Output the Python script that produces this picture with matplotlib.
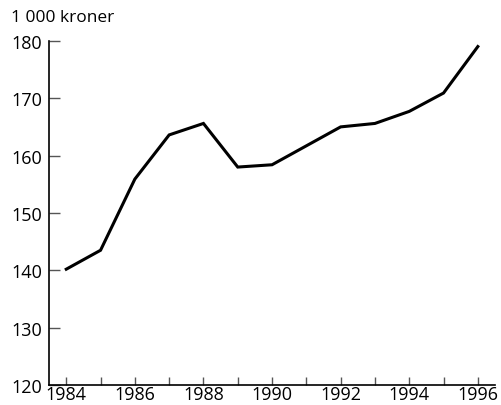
import matplotlib
matplotlib.use("Agg")
import matplotlib.pyplot as plt

# Data
years = [1984, 1985, 1986, 1987, 1988, 1989, 1990, 1991, 1992, 1993, 1994, 1995, 1996]
values = [140.2, 143.5, 155.9, 163.6, 165.6, 158.0, 158.4, 161.7, 165.0, 165.6, 167.7, 170.9, 179.0]
y_ticks = [120, 130, 140, 150, 160, 170, 180]
x_ticks = [1984, 1986, 1988, 1990, 1992, 1994, 1996]

plt.rcParams['font.family'] = ['Open Sans', 'DejaVu Sans']

fig = plt.figure(figsize=(5.01, 4.06), dpi=100)
ax = fig.add_axes([0.098, 0.049, 0.89, 0.848])

ax.plot(years, values, color='black', linewidth=2.2, solid_joinstyle='miter')

ax.set_xlim(1983.5, 1996.5)
ax.set_ylim(120, 180)
ax.set_yticks(y_ticks)
ax.set_xticks(years)
ax.set_xticklabels([str(y) if y in x_ticks else '' for y in years])

for side in ['top', 'right']:
    ax.spines[side].set_visible(False)
for side in ['left', 'bottom']:
    ax.spines[side].set_linewidth(1.2)

ax.tick_params(axis='y', direction='in', length=8, width=1.0, color='#555555',
               labelsize=13, pad=5)
ax.tick_params(axis='x', direction='in', length=6, width=1.0, color='#555555',
               labelsize=13, pad=0)

fig.text(0.022, 0.955, '1 000 kroner', fontsize=12.5, va='center', ha='left')

fig.savefig('out.png', dpi=100)
